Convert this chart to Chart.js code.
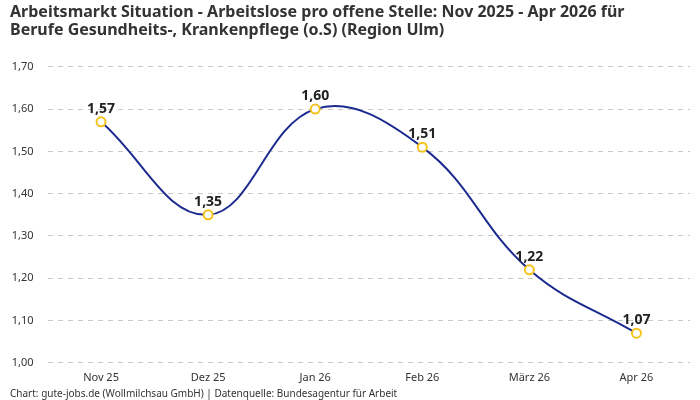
<!DOCTYPE html>
<html>
<head>
<meta charset="utf-8">
<script src="https://cdn.jsdelivr.net/npm/chart.js@4"></script>
<style>
  html, body { margin: 0; padding: 0; background: #fff; }
  #wrap { width: 700px; height: 400px; position: relative; }
</style>
</head>
<body>
<div id="wrap"><canvas id="chart"></canvas></div>
<script>
const monate = ['Nov 25', 'Dez 25', 'Jan 26', 'Feb 26', 'März 26', 'Apr 26'];
const arbeitsloseProStelle = [1.57, 1.35, 1.60, 1.51, 1.22, 1.07];
const yTicks = [1.0, 1.1, 1.2, 1.3, 1.4, 1.5, 1.6, 1.7];

const fmt = v => v.toFixed(2).replace('.', ',');

// Werte über den Punkten
const wertLabels = {
    id: 'wertLabels',
    afterDatasetsDraw(chart) {
        const ctx = chart.ctx;
        const meta = chart.getDatasetMeta(0);
        ctx.save();
        ctx.font = 'bold 14px "Noto Sans", sans-serif';
        ctx.fillStyle = '#222';
        ctx.textAlign = 'center';
        ctx.textBaseline = 'bottom';
        meta.data.forEach((pt, i) => {
            ctx.fillText(fmt(arbeitsloseProStelle[i]), pt.x, pt.y - 6);
        });
        ctx.restore();
    }
};

new Chart(document.getElementById('chart'), {
    type: 'line',
    data: {
        labels: monate,
        datasets: [{
            data: arbeitsloseProStelle,
            borderColor: '#1c2b8f',
            borderWidth: 2,
            tension: 0.4,
            pointRadius: 4.5,
            pointBorderWidth: 2,
            pointBackgroundColor: '#ffffff',
            pointBorderColor: '#f5c21b',
            fill: false
        }]
    },
    options: {
        responsive: true,
        maintainAspectRatio: false,
        animation: false,
        layout: { padding: { left: 10, right: 10, top: 0, bottom: 0 } },
        scales: {
            x: {
                offset: true,
                grid: { display: false },
                border: { display: false },
                ticks: { color: '#333', font: { family: '"Noto Sans", sans-serif', size: 11 }, padding: 0 },
                afterFit: axis => { axis.height = axis.height + 2; }
            },
            y: {
                min: 1.0,
                max: 1.7,
                afterBuildTicks: axis => { axis.ticks = yTicks.map(v => ({ value: v })); },
                afterFit: axis => { axis.width = 37.5; },
                grid: { color: '#c8c8c8', drawTicks: false },
                border: { display: false, dash: [5, 5] },
                ticks: {
                    color: '#333',
                    padding: 14,
                    font: { family: '"Noto Sans", sans-serif', size: 11 },
                    callback: v => fmt(v)
                }
            }
        },
        plugins: {
            legend: { display: false },
            tooltip: { enabled: false },
            title: {
                display: true,
                text: ['Arbeitsmarkt Situation - Arbeitslose pro offene Stelle: Nov 2025 - Apr 2026 für',
                       'Berufe Gesundheits-, Krankenpflege (o.S) (Region Ulm)'],
                align: 'start',
                color: '#333',
                font: { family: '"Noto Sans", sans-serif', size: 16, weight: 'bold', lineHeight: 1.15 },
                padding: { top: 3, bottom: 27 }
            },
            subtitle: {
                display: true,
                position: 'bottom',
                align: 'start',
                text: 'Chart: gute-jobs.de (Wollmilchsau GmbH) | Datenquelle: Bundesagentur für Arbeit',
                color: '#333',
                font: { family: '"Noto Sans", sans-serif', size: 10 },
                padding: { top: 2, bottom: 0 }
            }
        }
    },
    plugins: [wertLabels]
});
</script>
</body>
</html>
